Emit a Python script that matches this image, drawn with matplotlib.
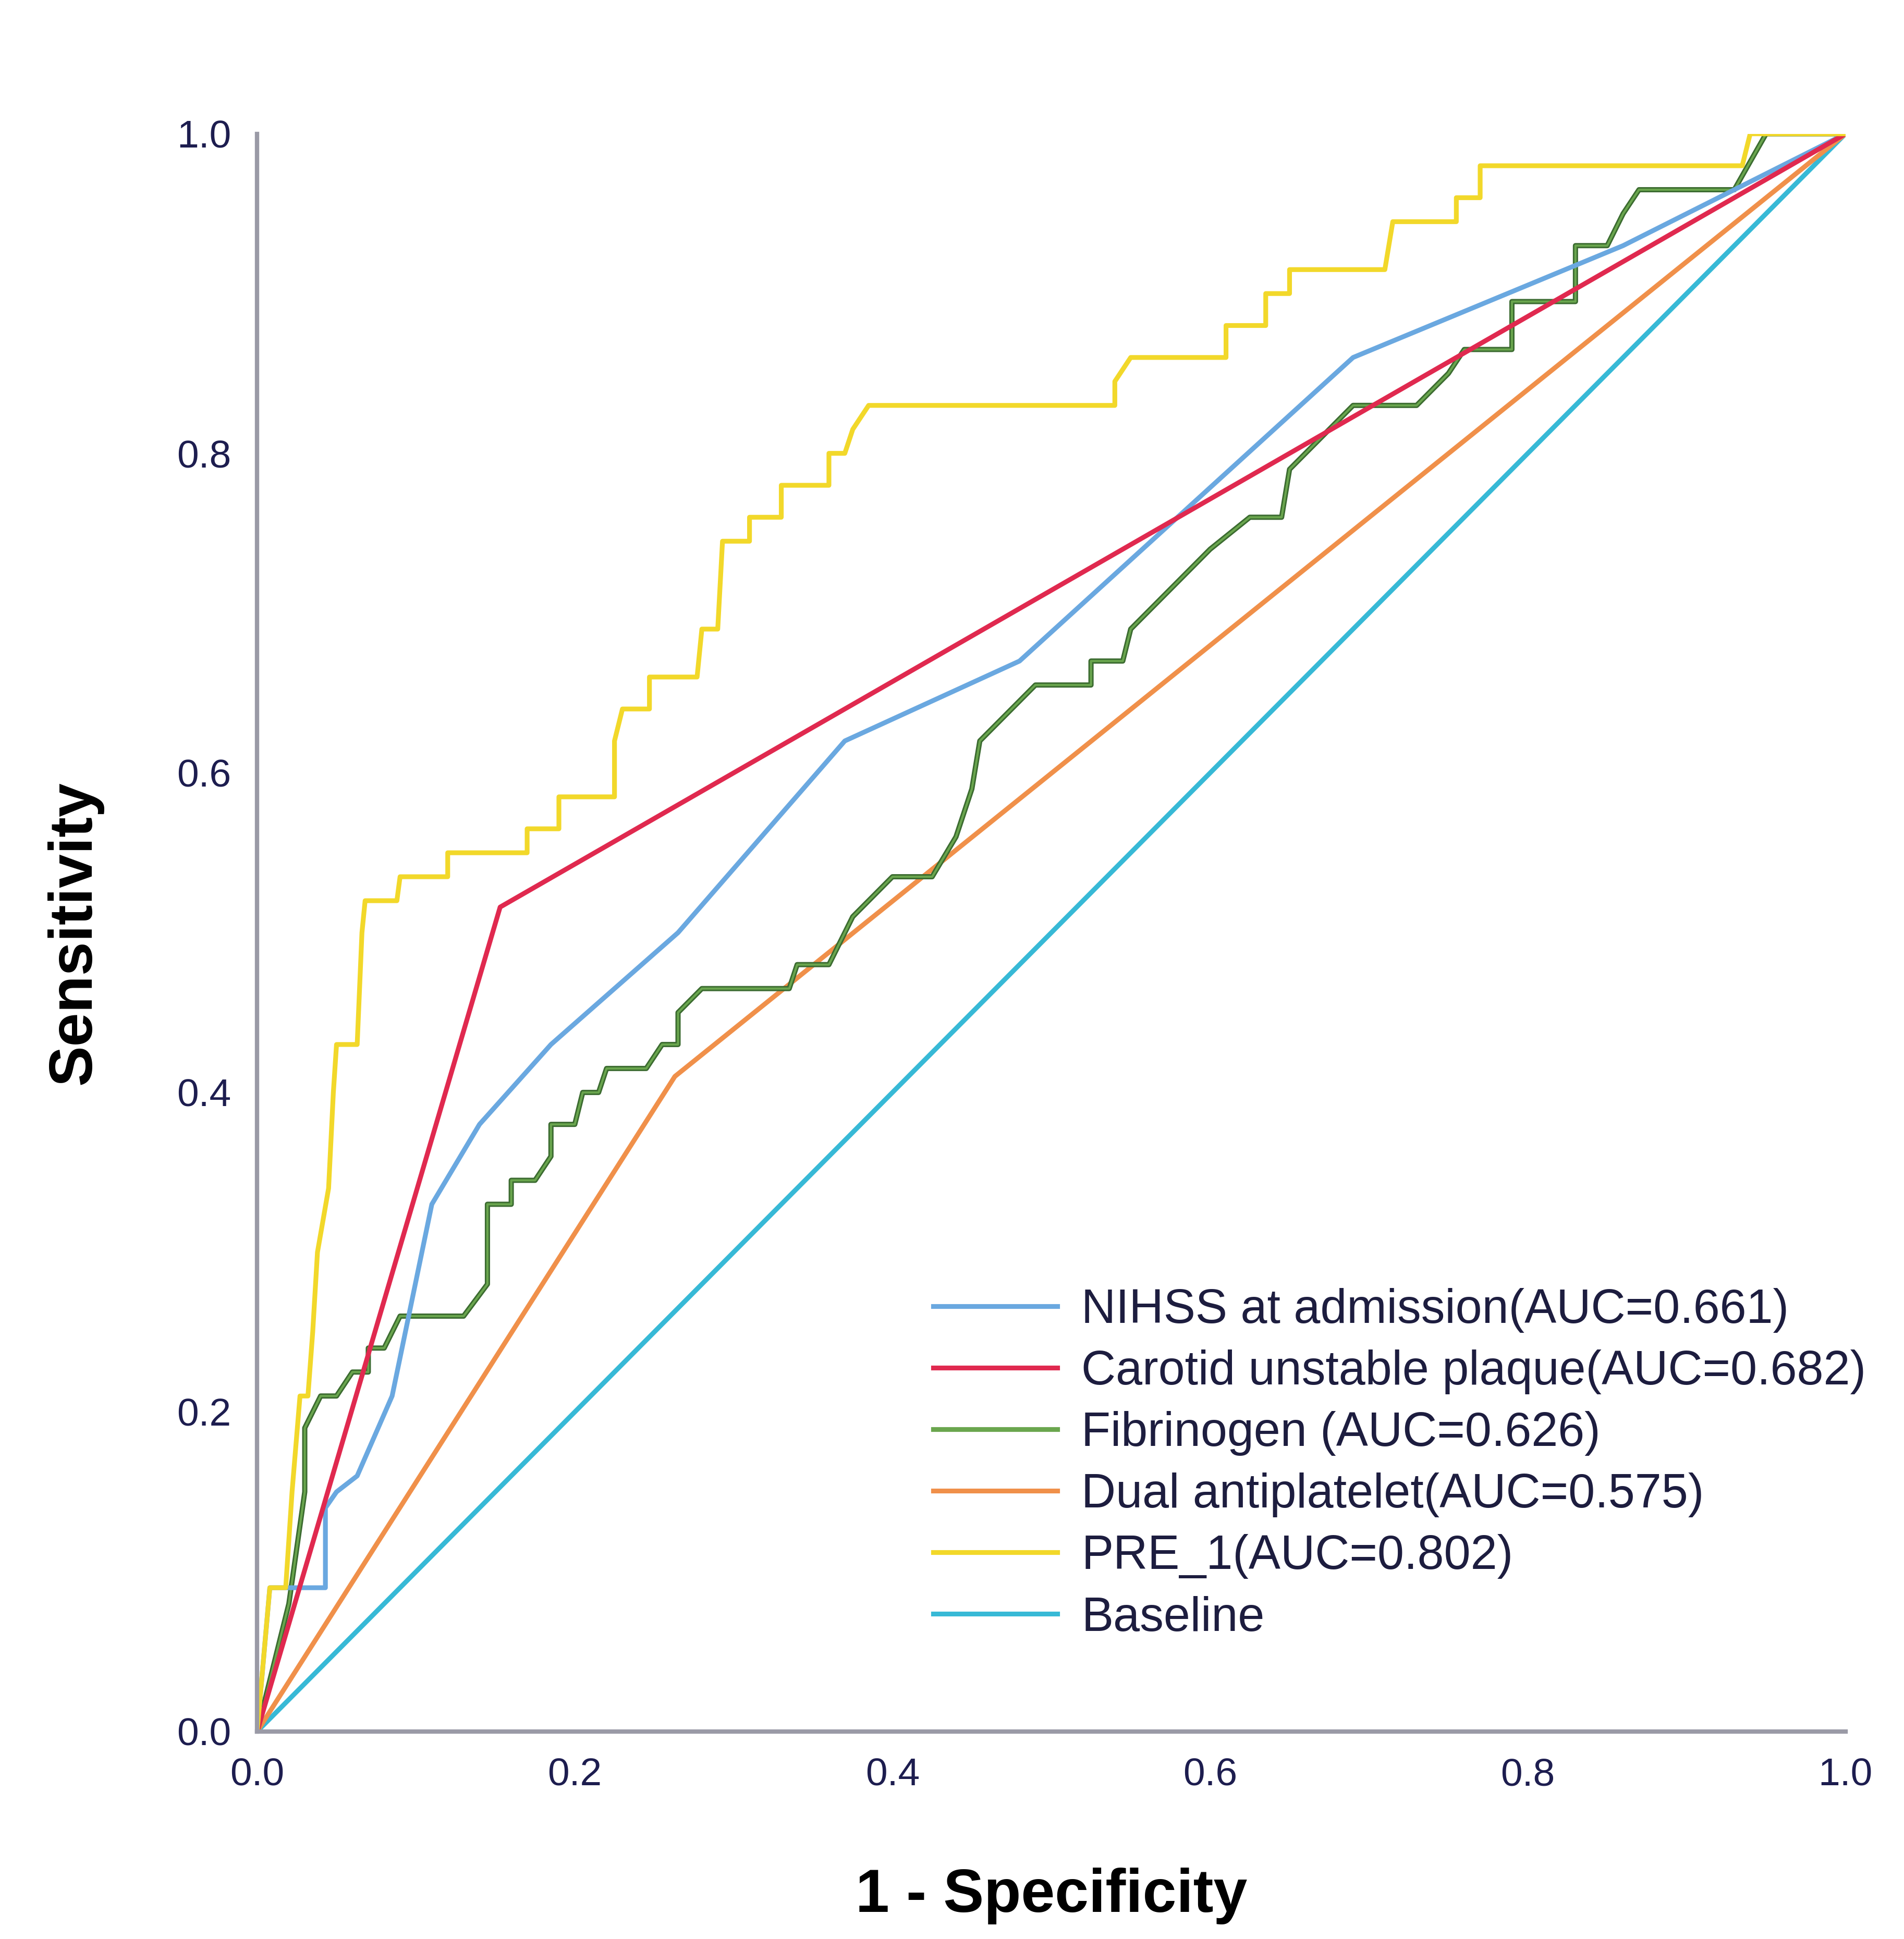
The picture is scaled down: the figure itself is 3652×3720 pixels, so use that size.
import numpy as np
import matplotlib.pyplot as plt

plt.rcParams['font.family'] = ['Liberation Sans', 'DejaVu Sans']

# ROC curve points
nihss_x = [0, 0.008, 0.043, 0.043, 0.05, 0.063, 0.085, 0.11, 0.14, 0.185, 0.265, 0.37, 0.48, 0.69, 0.86, 1]
nihss_y = [0, 0.09, 0.09, 0.14, 0.15, 0.16, 0.21, 0.33, 0.38, 0.43, 0.50, 0.62, 0.67, 0.86, 0.93, 1]

plaque_x = [0, 0.153, 1]
plaque_y = [0, 0.516, 1]

fib_x = [0, 0.02, 0.03, 0.03, 0.04, 0.05, 0.06, 0.07, 0.07, 0.08, 0.09, 0.13, 0.145, 0.145, 0.16, 0.16,
         0.175, 0.185, 0.185, 0.2, 0.205, 0.215, 0.22, 0.245, 0.255, 0.265, 0.265, 0.28, 0.335, 0.34,
         0.36, 0.37, 0.375, 0.39, 0.4, 0.425, 0.44, 0.45, 0.455, 0.465, 0.48, 0.49, 0.525, 0.525, 0.545,
         0.55, 0.57, 0.6, 0.625, 0.645, 0.65, 0.67, 0.69, 0.73, 0.75, 0.76, 0.79, 0.79, 0.83, 0.83, 0.85,
         0.86, 0.87, 0.93, 0.95, 1]
fib_y = [0, 0.08, 0.15, 0.19, 0.21, 0.21, 0.225, 0.225, 0.24, 0.24, 0.26, 0.26, 0.28, 0.33, 0.33, 0.345,
         0.345, 0.36, 0.38, 0.38, 0.40, 0.40, 0.415, 0.415, 0.43, 0.43, 0.45, 0.465, 0.465, 0.48,
         0.48, 0.50, 0.51, 0.525, 0.535, 0.535, 0.56, 0.59, 0.62, 0.63, 0.645, 0.655, 0.655, 0.67, 0.67,
         0.69, 0.71, 0.74, 0.76, 0.76, 0.79, 0.81, 0.83, 0.83, 0.85, 0.865, 0.865, 0.895, 0.895, 0.93, 0.93,
         0.95, 0.965, 0.965, 1, 1]

dual_x = [0, 0.263, 1]
dual_y = [0, 0.41, 1]

pre_x = [0, 0.008, 0.018, 0.022, 0.027, 0.032, 0.035, 0.038, 0.045, 0.048, 0.05, 0.063, 0.066, 0.068,
         0.088, 0.09, 0.12, 0.12, 0.17, 0.17, 0.19, 0.19, 0.225, 0.225, 0.23, 0.247, 0.247, 0.277, 0.28,
         0.29, 0.293, 0.31, 0.31, 0.33, 0.33, 0.36, 0.36, 0.37, 0.375, 0.385, 0.54, 0.54, 0.55, 0.61,
         0.61, 0.635, 0.635, 0.65, 0.65, 0.71, 0.715, 0.755, 0.755, 0.77, 0.77, 0.935, 0.94, 1]
pre_y = [0, 0.09, 0.09, 0.15, 0.21, 0.21, 0.25, 0.30, 0.34, 0.40, 0.43, 0.43, 0.50, 0.52,
         0.52, 0.535, 0.535, 0.55, 0.55, 0.565, 0.565, 0.585, 0.585, 0.62, 0.64, 0.64, 0.66, 0.66, 0.69,
         0.69, 0.745, 0.745, 0.76, 0.76, 0.78, 0.78, 0.80, 0.80, 0.815, 0.83, 0.83, 0.845, 0.86, 0.86,
         0.88, 0.88, 0.90, 0.90, 0.915, 0.915, 0.945, 0.945, 0.96, 0.96, 0.98, 0.98, 1, 1]

labels = ['NIHSS at admission(AUC=0.661)', 'Carotid unstable plaque(AUC=0.682)',
          'Fibrinogen (AUC=0.626)', 'Dual antiplatelet(AUC=0.575)', 'PRE_1(AUC=0.802)', 'Baseline']
colors = ['#6aa8e0', '#e0294f', '#6aa64e', '#f0904a', '#f2d82a', '#37b9d6']

fig = plt.figure(figsize=(3653/300, 3720/300), dpi=300)
ax = fig.add_axes([0.135, 0.107, 0.841 - 0.007, 0.824])

ax.plot([0, 1], [0, 1], color=colors[5], lw=2.2, label=labels[5])
ax.plot(dual_x, dual_y, color=colors[3], lw=2.2, label=labels[3])
ax.plot(fib_x, fib_y, color='#3b6b30', lw=2.4)
ax.plot(fib_x, fib_y, color=colors[2], lw=1.0)
ax.plot([], [], color=colors[2], lw=2.2, label=labels[2])
ax.plot(nihss_x, nihss_y, color=colors[0], lw=2.2, label=labels[0])
ax.plot(plaque_x, plaque_y, color=colors[1], lw=2.2, label=labels[1])
ax.plot(pre_x, pre_y, color=colors[4], lw=2.2, label=labels[4])

h, l = ax.get_legend_handles_labels()
order = [labels.index(s) for s in l]
pairs = sorted(zip(order, h, l))
ax.legend([p[1] for p in pairs], [p[2] for p in pairs], loc='lower right',
          bbox_to_anchor=(1.04, 0.03), frameon=False, fontsize=22, handlelength=2.6,
          handletextpad=0.5, labelspacing=0.35, labelcolor='#1d1d3f')

ax.set_xlim(0, 1)
ax.set_ylim(0, 1)
ax.set_xticks(np.arange(0, 1.01, 0.2))
ax.set_yticks(np.arange(0, 1.01, 0.2))
ax.tick_params(labelsize=18, colors='#1d1d4f', length=0, pad=12)
for s in ['top', 'right']:
    ax.spines[s].set_visible(False)
for s in ['left', 'bottom']:
    ax.spines[s].set_color('#9a9aa6')
    ax.spines[s].set_linewidth(2)
ax.set_xlabel('1 - Specificity', fontsize=28, fontweight='bold', labelpad=34)
ax.set_ylabel('Sensitivity', fontsize=28, fontweight='bold', labelpad=34)

fig.savefig('out.png', dpi=300)
